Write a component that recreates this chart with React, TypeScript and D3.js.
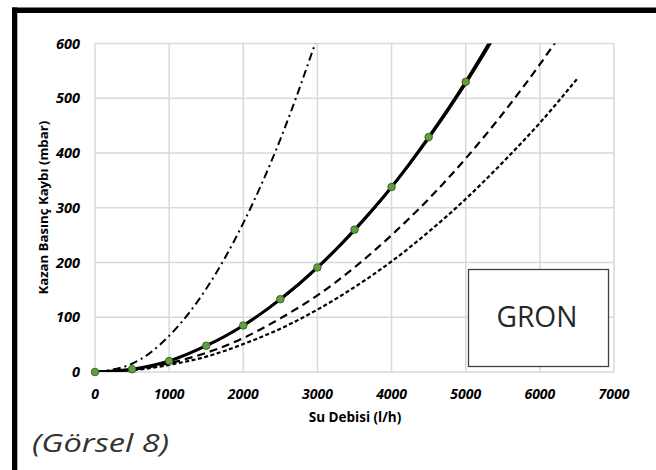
import React from "react";
import * as d3 from "d3";

const xTicks = [0, 1000, 2000, 3000, 4000, 5000, 6000, 7000];
const yTicks = [0, 100, 200, 300, 400, 500, 600];

// measured points (green markers)
const measuredFlow = [0, 500, 1000, 1500, 2000, 2500, 3000, 3500, 4000, 4500, 5000];
const measuredLoss = [0, 5, 20, 48, 85, 133, 191, 260, 338, 429, 530];

// solid thick curve
const solidFlow = [0, 500, 1000, 1500, 2000, 2500, 3000, 3500, 4000, 4500, 5000, 5400];
const solidLoss = [0, 5, 20, 48, 85, 133, 191, 260, 338, 429, 530, 620];

// thin solid trend curve
const trendFlow = [0, 500, 1000, 1500, 2000, 2500, 3000, 3500, 4000, 4500, 5000, 5500];
const trendLoss = [0, 5, 21, 47, 84, 131, 189, 257, 336, 425, 525, 636];

// dash-dot curve
const dashDotFlow = [0, 500, 1000, 1500, 2000, 2500, 3000];
const dashDotLoss = [0, 15, 66, 152, 272, 425, 612];

// long dashed curve
const dashFlow = [0, 500, 1000, 1500, 2000, 2500, 3000, 3500, 4000, 4500, 5000, 5500, 6000, 6250];
const dashLoss = [0, 4, 16, 35, 62, 98, 140, 191, 250, 316, 390, 472, 562, 610];

// short dashed curve
const dotFlow = [0, 500, 1000, 1500, 2000, 2500, 3000, 3500, 4000, 4500, 5000, 5500, 6000, 6500];
const dotLoss = [0, 3, 13, 28, 51, 79, 114, 155, 202, 256, 316, 383, 455, 535];

const legendLabel = "GRON";
const xTitle = "Su Debisi (l/h)";
const yTitle = "Kazan Basınç Kaybı (mbar)";
const caption = "(Görsel 8)";

const W = 656;
const H = 470;
const L = 95, R = 614, T = 43.5, B = 372;

export default function App() {
  const x = d3.scaleLinear().domain([0, 7000]).range([L, R]);
  const y = d3.scaleLinear().domain([0, 600]).range([B, T]);
  const mk = (fx: number[], fy: number[]) =>
    d3
      .line<number>()
      .x((_, i) => x(fx[i]))
      .y((d) => y(d))
      .curve(d3.curveMonotoneX)(fy) || "";

  const tickFont = "'Open Sans', sans-serif";
  const grid = "#d9d9d9";

  return (
    <div style={{ position: "absolute", left: 0, top: 0 }}>
      <svg width={W} height={H} style={{ display: "block", background: "#fff" }}>
        <defs>
          <clipPath id="plot">
            <rect x={L} y={T} width={R - L} height={B - T} />
          </clipPath>
        </defs>
        {/* frame */}
        <rect x={12} y={7.5} width={W - 12} height={5.5} fill="#000" />
        <rect x={12} y={7.5} width={5.3} height={H - 7.5} fill="#000" />

        {/* grid */}
        {xTicks.map((t) => (
          <line key={"gx" + t} x1={x(t)} x2={x(t)} y1={T} y2={B} stroke={grid} strokeWidth={1.5} />
        ))}
        {yTicks.map((t) => (
          <line key={"gy" + t} x1={L} x2={R} y1={y(t)} y2={y(t)} stroke={grid} strokeWidth={1.5} />
        ))}

        {/* tick labels */}
        {yTicks.map((t) => (
          <text
            key={"ty" + t}
            x={80}
            y={y(t) + 5}
            textAnchor="end"
            fontFamily={tickFont}
            fontWeight="bold"
            fontStyle="italic"
            fontSize={14.5}
            fill="#000"
          >
            {t}
          </text>
        ))}
        {xTicks.map((t) => (
          <text
            key={"tx" + t}
            x={x(t)}
            y={398.5}
            textAnchor="middle"
            fontFamily={tickFont}
            fontWeight="bold"
            fontStyle="italic"
            fontSize={14}
            fill="#000"
          >
            {t}
          </text>
        ))}

        {/* axis titles */}
        <text
          x={(L + R) / 2 + 0.5}
          y={422}
          textAnchor="middle"
          fontFamily={tickFont}
          fontWeight="bold"
          fontSize={13.5}
          fill="#000"
        >
          {xTitle}
        </text>
        <text
          transform={`translate(47.5, ${(T + B) / 2}) rotate(-90)`}
          textAnchor="middle"
          fontFamily={tickFont}
          fontWeight="bold"
          fontSize={13.2}
          fill="#000"
        >
          {yTitle}
        </text>

        {/* curves */}
        <g clipPath="url(#plot)" fill="none" stroke="#000">
          <path d={mk(dashDotFlow, dashDotLoss)} strokeWidth={2} strokeDasharray="8 4 2 4" />
          <path d={mk(dotFlow, dotLoss)} strokeWidth={2.2} strokeDasharray="4 2.5" />
          <path d={mk(dashFlow, dashLoss)} strokeWidth={2.2} strokeDasharray="8 5" />
          <path d={mk(trendFlow, trendLoss)} strokeWidth={1.5} />
          <path d={mk(solidFlow, solidLoss)} strokeWidth={3} />
        </g>

        {/* markers */}
        {measuredFlow.map((f, i) => (
          <circle
            key={"m" + f}
            cx={x(f)}
            cy={y(measuredLoss[i])}
            r={3.8}
            fill="#5f9f3e"
            stroke="#2e4f20"
            strokeWidth={0.8}
          />
        ))}

        {/* legend box */}
        <rect x={468.5} y={269.5} width={140} height={97} fill="#fff" stroke="#404040" strokeWidth={1.3} />
        <text
          x={537}
          y={326.5}
          textAnchor="middle"
          fontFamily={tickFont}
          fontSize={29}
          fill="#262626"
          textLength={81}
          lengthAdjust="spacingAndGlyphs"
        >
          {legendLabel}
        </text>

        {/* caption */}
        <text
          x={32}
          y={452}
          fontFamily={tickFont}
          fontStyle="italic"
          fontSize={26}
          fill="#333"
          textLength={137}
          lengthAdjust="spacingAndGlyphs"
        >
          {caption}
        </text>
      </svg>
    </div>
  );
}
